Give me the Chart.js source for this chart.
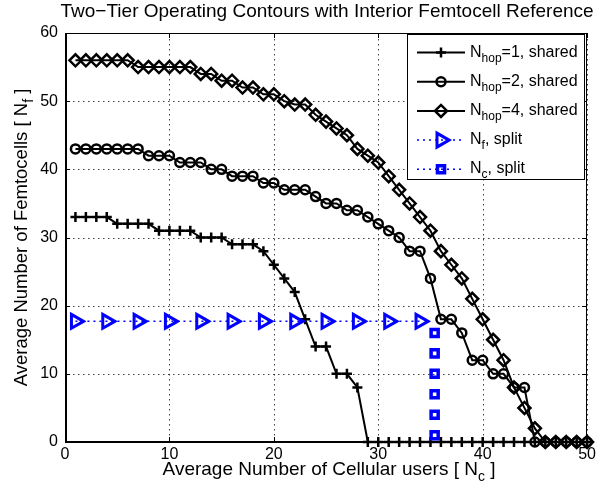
<!DOCTYPE html>
<html>
<head>
<meta charset="utf-8">
<script src="https://cdn.jsdelivr.net/npm/chart.js@4.4.0/dist/chart.umd.min.js"></script>
<style>
  body { margin: 0; background: #fff; }
  #wrap { width: 599px; height: 495px; }
</style>
</head>
<body>
<div id="wrap"><canvas id="contours" width="599" height="495"></canvas></div>
<script>
// Average number of cellular users (x)
const users = [1,2,3,4,5,6,7,8,9,10,11,12,13,14,15,16,17,18,19,20,21,22,23,24,25,
               26,27,28,29,30,31,32,33,34,35,36,37,38,39,40,41,42,43,44,45,46,47,48,49,50];

// Femtocells supported, shared spectrum
const hop1Shared = [33,33,33,33,32,32,32,32,31,31,31,31,30,30,30,29,29,29,28,26,24,22,18,14,14,10,10,8,
                    0,0,0,0,0,0,0,0,0,0,0,0,0,0,0,0,0,0,0,0,0,0];
const hop2Shared = [43,43,43,43,43,43,43,42,42,42,41,41,41,40,40,39,39,39,38,38,37,37,37,36,35,35,34,34,
                    33,32,31,30,28,28,24,18,18,16,12,12,10,10,8,8,0,0,0,0,0,0];
const hop4Shared = [56,56,56,56,56,56,55,55,55,55,55,55,54,54,53,53,52,52,51,51,50,49.5,49.5,48,47,46,45,43,
                    42,41,39,37,35,33,31,28,26,24,21,18,15,12,8,5,2,0,0,0,0,0];

// Split spectrum reference
const femtoSplitX = [1,4,7,10,13,16,19,22,25,28,31,34];
const femtoSplitLevel = 17.7;
const cellSplitY = [1,4,7,10,13,16];
const cellSplitLevel = 35.4;

// Tick labels
const xTicks = [0,10,20,30,40,50];
const yTicks = [0,10,20,30,40,50,60];

const FONT = "'Liberation Sans', Arial, Helvetica, sans-serif";

function pts(xs, ys) {
    return xs.map((x, i) => ({ x: x, y: ys[i] }));
}

// texte mit tiefgestellten Teilen zeichnen: parts = [text, size, dy]
function richText(ctx, parts, x, y, align) {
    let total = 0;
    parts.forEach(p => {
        ctx.font = p[1] + 'px ' + FONT;
        p.w = ctx.measureText(p[0]).width;
        total += p.w;
    });
    let cx = align === 'center' ? x - total / 2 : x;
    ctx.textAlign = 'left';
    ctx.textBaseline = 'alphabetic';
    parts.forEach(p => {
        ctx.font = p[1] + 'px ' + FONT;
        ctx.fillText(p[0], cx, y + p[2]);
        cx += p.w;
    });
}

const legendItems = [
    { parts: [['N', 16, 0], ['hop', 12, 5], ['=1, shared', 16, 0]], color: '#000', dash: [], style: 'cross', r: 5, bw: 2.5, rot: 0 },
    { parts: [['N', 16, 0], ['hop', 12, 5], ['=2, shared', 16, 0]], color: '#000', dash: [], style: 'circle', r: 4.5, bw: 2.5, rot: 0 },
    { parts: [['N', 16, 0], ['hop', 12, 5], ['=4, shared', 16, 0]], color: '#000', dash: [], style: 'rectRot', r: 6, bw: 2.5, rot: 0 },
    { parts: [['N', 16, 0], ['f', 12, 5], [', split', 16, 0]], color: '#0000ff', dash: [2, 4], style: 'triangle', r: 8, bw: 3, rot: 90 },
    { parts: [['N', 16, 0], ['c', 12, 5], [', split', 16, 0]], color: '#0000ff', dash: [2, 4], style: 'rect', r: 5, bw: 3.5, rot: 0 }
];

// Gitterpositionen aus der Plotfläche und den Achsengrenzen
function gridX(a, v) {
    const lo = xTicks[0], hi = xTicks[xTicks.length - 1];
    return Math.round(a.left + (v - lo) / (hi - lo) * (a.right - a.left));
}
function gridY(a, v) {
    const lo = yTicks[0], hi = yTicks[yTicks.length - 1];
    return Math.round(a.bottom - (v - lo) / (hi - lo) * (a.bottom - a.top));
}

function drawFrame(chart) {
    const ctx = chart.ctx;
    const a = chart.chartArea;
    const L = Math.round(a.left), R = Math.round(a.right), T = Math.round(a.top), B = Math.round(a.bottom);
    ctx.save();
    // gepunktetes Gitter, Punkt für Punkt
    ctx.fillStyle = 'rgba(0,0,0,0.75)';
    xTicks.forEach(v => {
        const px = gridX(a, v);
        for (let y = B - 3; y > T; y -= 5) ctx.fillRect(px, y, 1, 1.5);
    });
    yTicks.forEach(v => {
        const py = gridY(a, v);
        for (let x = L + 3; x < R; x += 5) ctx.fillRect(x, py, 1.5, 1);
    });

    // Rahmen
    ctx.fillStyle = '#000';
    ctx.fillRect(L, T, R - L, 1);
    ctx.fillRect(R - 1, T, 1, B - T);
    ctx.fillRect(L, T, 2, B - T);
    ctx.fillRect(L, B - 1, R - L, 2);

    // Ticks nach innen
    xTicks.forEach(v => {
        const px = gridX(a, v);
        ctx.fillRect(px, B - 5, 1, 5);
        ctx.fillRect(px, T, 1, 5);
    });
    yTicks.forEach(v => {
        const py = gridY(a, v);
        ctx.fillRect(L, py, 5, 1);
        ctx.fillRect(R - 5, py, 5, 1);
    });
    ctx.restore();
}

function drawTexts(chart) {
    const ctx = chart.ctx;
    const a = chart.chartArea;
    const midX = (a.left + a.right) / 2;
    const midY = (a.top + a.bottom) / 2;
    ctx.save();
    ctx.fillStyle = '#000';

    // Titel
    richText(ctx, [['Two\u2212Tier Operating Contours with Interior Femtocell Reference', 19, 0]], midX + 1, 17, 'center');

    // Achsenbeschriftungen
    richText(ctx, [['Average Number of Cellular users [ N', 19, 0], ['c', 14, 6], [' ]', 19, 0]], midX + 3, 475, 'center');
    ctx.save();
    ctx.translate(27, midY);
    ctx.rotate(-Math.PI / 2);
    richText(ctx, [['Average Number of Femtocells [ N', 18.5, 0], ['f', 14, 6], [' ]', 18.5, 0]], 0, 0, 'center');
    ctx.restore();

    // Legende
    const lx = 407.5, ly = 34.5, lw = 177, lh = 145;
    ctx.fillStyle = '#fff';
    ctx.fillRect(lx, ly, lw, lh);
    ctx.strokeStyle = '#000';
    ctx.lineWidth = 1;
    ctx.strokeRect(lx, ly, lw, lh);
    legendItems.forEach((it, i) => {
        const y = 52.5 + i * 29.2;
        ctx.strokeStyle = it.color;
        ctx.lineWidth = it.dash.length ? 1.5 : 2;
        ctx.setLineDash(it.dash);
        ctx.beginPath();
        ctx.moveTo(417, y);
        ctx.lineTo(465, y);
        ctx.stroke();
        ctx.setLineDash([]);
        ctx.fillStyle = 'rgba(0,0,0,0)';
        ctx.lineWidth = it.bw;
        Chart.helpers.drawPoint(ctx, { pointStyle: it.style, radius: it.r, rotation: it.rot, borderWidth: it.bw }, 441, y);
        ctx.fillStyle = '#000';
        richText(ctx, it.parts, 470, y + 4, 'left');
    });
    ctx.restore();
}

const matlabFrame = {
    id: 'matlabFrame',
    beforeDatasetsDraw(chart) { drawFrame(chart); },
    afterDraw(chart) { drawTexts(chart); }
};

const blackLine = {
    borderColor: '#000',
    backgroundColor: 'rgba(0,0,0,0)',
    pointBorderColor: '#000',
    pointBackgroundColor: 'rgba(0,0,0,0)',
    borderWidth: 2,
    pointBorderWidth: 2.5,
    fill: false,
    tension: 0,
    clip: false
};

new Chart(document.getElementById('contours'), {
    type: 'line',
    data: {
        datasets: [
            Object.assign({}, blackLine, {
                label: 'Nhop=1, shared',
                data: pts(users, hop1Shared),
                pointStyle: 'cross',
                pointRadius: 5,
                order: 5
            }),
            Object.assign({}, blackLine, {
                label: 'Nhop=2, shared',
                data: pts(users, hop2Shared),
                pointStyle: 'circle',
                pointRadius: 4.5,
                order: 4
            }),
            Object.assign({}, blackLine, {
                label: 'Nhop=4, shared',
                data: pts(users, hop4Shared),
                pointStyle: 'rectRot',
                pointRadius: 6,
                order: 3
            }),
            {
                label: 'Nf, split',
                data: femtoSplitX.map(x => ({ x: x, y: femtoSplitLevel })),
                borderColor: '#0000ff',
                backgroundColor: 'rgba(0,0,0,0)',
                fill: false,
                borderWidth: 1.5,
                borderDash: [2, 4],
                pointStyle: 'triangle',
                pointRotation: 90,
                pointRadius: 8,
                pointBorderWidth: 3,
                pointBorderColor: '#0000ff',
                pointBackgroundColor: 'rgba(0,0,0,0)',
                clip: false,
                order: 2
            },
            {
                label: 'Nc, split',
                data: cellSplitY.map(y => ({ x: cellSplitLevel, y: y })),
                showLine: false,
                fill: false,
                borderColor: '#0000ff',
                backgroundColor: 'rgba(0,0,0,0)',
                pointStyle: 'rect',
                pointRadius: 5,
                pointBorderWidth: 3.5,
                pointBorderColor: '#0000ff',
                pointBackgroundColor: 'rgba(0,0,0,0)',
                clip: false,
                order: 1
            }
        ]
    },
    options: {
        responsive: false,
        animation: false,
        layout: { padding: { top: 33, right: 10, left: 0, bottom: 0 } },
        plugins: {
            legend: { display: false },
            title: { display: false },
            tooltip: { enabled: false }
        },
        scales: {
            x: {
                type: 'linear',
                min: 0,
                max: 50,
                afterFit: s => { s.height = 53; },
                afterBuildTicks: s => { s.ticks = xTicks.map(v => ({ value: v })); },
                grid: { display: false, drawTicks: false },
                border: { display: false },
                ticks: { color: '#000', padding: 3, maxRotation: 0, font: { family: FONT, size: 16 } }
            },
            y: {
                min: 0,
                max: 60,
                afterFit: s => { s.width = 65; },
                afterBuildTicks: s => { s.ticks = yTicks.map(v => ({ value: v })); },
                grid: { display: false, drawTicks: false },
                border: { display: false },
                ticks: { color: '#000', padding: 7, font: { family: FONT, size: 16 } }
            }
        }
    },
    plugins: [matlabFrame]
});
</script>
</body>
</html>
